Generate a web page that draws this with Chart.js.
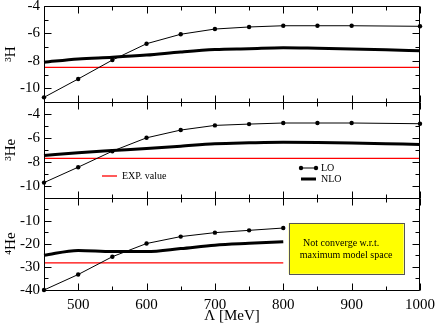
<!DOCTYPE html>
<html>
<head>
<meta charset="utf-8">
<script src="https://cdn.jsdelivr.net/npm/chart.js@4.4.1/dist/chart.umd.min.js"></script>
<style>
html, body { margin: 0; padding: 0; background: #fff; }
canvas { display: block; }
</style>
</head>
<body>
<canvas id="myChart" width="436" height="326"></canvas>
<script>
// Lambda cutoff [MeV]
const lambda = [450, 500, 550, 600, 650, 700, 750, 800, 850, 900, 950, 1000];
const loLambda = [450, 500, 550, 600, 650, 700, 750, 800, 850, 900, 1000];
const lambda4He = [450, 500, 550, 600, 650, 700, 750, 800];

// binding energies [MeV]
const lo3H = [-10.66, -9.32, -7.94, -6.75, -6.06, -5.68, -5.53, -5.44, -5.44, -5.44, -5.48];
const nlo3H = [-8.1, -7.86, -7.74, -7.58, -7.35, -7.17, -7.11, -7.04, -7.08, -7.13, -7.19, -7.26];
const lo3He = [-9.75, -8.46, -7.12, -6.0, -5.35, -4.96, -4.85, -4.76, -4.76, -4.76, -4.82];
const nlo3He = [-7.48, -7.25, -7.07, -6.9, -6.7, -6.5, -6.42, -6.37, -6.39, -6.43, -6.49, -6.55];
const lo4He = [-40.0, -33.3, -25.6, -19.9, -16.9, -15.2, -14.2, -13.2];
const nlo4He = [-25.0, -22.9, -23.4, -23.4, -22.1, -20.6, -19.8, -19.1];

const expValues = [-8.48, -7.72, -28.3];
const expRange = [[450, 1000], [450, 1000], [450, 800]];

// tick labels
const xTicks = [500, 600, 700, 800, 900, 1000];
const ticks3H = [-10, -8, -6, -4];
const ticks3He = [-10, -8, -6, -4];
const ticks4He = [-40, -30, -20, -10];

const panelIds = ['yH', 'yHe3', 'yHe4'];
const panelTitles = ['\u00B3H', '\u00B3He', '\u2074He'];

const serif = '"Liberation Serif", "DejaVu Serif", serif';
Chart.defaults.font.family = serif;
Chart.defaults.color = '#000';

function pts(xs, ys) {
    return xs.map((x, i) => ({ x: x, y: ys[i] }))
}

function loSet(xs, ys, axis) {
    return {
        label: 'LO', data: pts(xs, ys), yAxisID: axis,
        borderColor: '#000', backgroundColor: '#000', borderWidth: 1,
        pointRadius: 2.2, pointBackgroundColor: '#000', pointBorderWidth: 0, clip: false
    }
}
function nloSet(xs, ys, axis) {
    return {
        label: 'NLO', data: pts(xs, ys), yAxisID: axis,
        borderColor: '#000', borderWidth: 3, pointRadius: 0,
        cubicInterpolationMode: 'monotone', clip: false
    }
}
function expSet(i) {
    return {
        label: 'EXP. value', data: pts(expRange[i], [expValues[i], expValues[i]]), yAxisID: panelIds[i],
        borderColor: '#ff0000', borderWidth: 1.3, pointRadius: 0
    }
}

function yAxis(i, min, max, step, weight, tickVals) {
    return {
        type: 'linear', position: 'left', stack: 'panels', stackWeight: weight,
        min: min, max: max,
        grid: { display: false, drawTicks: false },
        border: { display: false },
        ticks: { stepSize: step, padding: 4, autoSkip: false, font: { size: 15 }, callback: v => String(v) },
        title: { display: true, text: panelTitles[i], font: { size: 15 }, padding: { top: 2, bottom: 0 } },
        afterBuildTicks: s => { s.ticks = tickVals.map(v => ({ value: v })) },
        afterFit: s => { s.width = 44; s.paddingTop = 0; s.paddingBottom = 0 }
    }
}

// frame and inward tick marks for every panel
const frame = {
    id: 'frame',
    afterDraw(chart) {
        const ctx = chart.ctx;
        const xs = chart.scales.x;
        const L = Math.round(chart.chartArea.left) + 0.5;
        const R = Math.round(chart.chartArea.right) - 0.5;
        ctx.save();
        ctx.strokeStyle = '#000';
        ctx.lineWidth = 1;
        ctx.beginPath();
        panelIds.forEach((id, i) => {
            const ys = chart.scales[id];
            const T = Math.round(ys.top) + 0.5;
            const B = Math.round(ys.bottom) + 0.5;
            ctx.rect(L, T, R - L, B - T);
            for (let v = 450; v <= 1000; v += 50) {
                const px = Math.round(xs.getPixelForValue(v)) + 0.5;
                const len = v % 100 === 0 ? 7 : 4;
                ctx.moveTo(px, T); ctx.lineTo(px, T + len);
                ctx.moveTo(px, B); ctx.lineTo(px, B - len);
            }
            const step = ys.options.ticks.stepSize / 2;
            for (let v = ys.min; v <= ys.max; v += step) {
                const py = Math.round(ys.getPixelForValue(v)) + 0.5;
                const len = v % (step * 2) === 0 ? 7 : 4;
                ctx.moveTo(L, py); ctx.lineTo(L + len, py);
                ctx.moveTo(R, py); ctx.lineTo(R - len, py);
            }
        });
        ctx.stroke();

        // legend in the 3He panel
        ctx.font = '10px ' + serif;
        ctx.textBaseline = 'middle';
        ctx.textAlign = 'left';
        ctx.strokeStyle = '#ff0000';
        ctx.lineWidth = 1.3;
        ctx.beginPath(); ctx.moveTo(102, 176); ctx.lineTo(117, 176); ctx.stroke();
        ctx.fillStyle = '#000';
        ctx.fillText('EXP. value', 122, 176.5);

        ctx.strokeStyle = '#000';
        ctx.lineWidth = 1;
        ctx.beginPath(); ctx.moveTo(301, 168); ctx.lineTo(316, 168); ctx.stroke();
        [301, 316].forEach(x => { ctx.beginPath(); ctx.arc(x, 168, 2.2, 0, Math.PI * 2); ctx.fill() });
        ctx.fillText('LO', 321, 168.5);
        ctx.lineWidth = 3;
        ctx.beginPath(); ctx.moveTo(301, 179); ctx.lineTo(316, 179); ctx.stroke();
        ctx.fillText('NLO', 321, 179.5);

        // note box in the 4He panel
        const y4 = chart.scales.yHe4;
        const bx = xs.getPixelForValue(808), bx2 = xs.getPixelForValue(976);
        const by = y4.getPixelForValue(-11), by2 = y4.getPixelForValue(-33);
        ctx.fillStyle = '#ffff00';
        ctx.fillRect(bx, by, bx2 - bx, by2 - by);
        ctx.strokeStyle = '#555';
        ctx.lineWidth = 1;
        ctx.strokeRect(Math.round(bx) + 0.5, Math.round(by) + 0.5, Math.round(bx2 - bx), Math.round(by2 - by));
        ctx.fillStyle = '#000';
        ctx.textAlign = 'center';
        ctx.font = '10px ' + serif;
        const mid = (by + by2) / 2;
        ctx.fillText('Not converge w.r.t.', (bx + bx2) / 2 - 5, mid - 5.5);
        ctx.fillText('maximum model space', (bx + bx2) / 2, mid + 6.5);
        ctx.restore();
    }
}

new Chart(document.getElementById('myChart'), {
    type: 'line',
    data: {
        datasets: [
            loSet(loLambda, lo3H, 'yH'), nloSet(lambda, nlo3H, 'yH'), expSet(0),
            loSet(loLambda, lo3He, 'yHe3'), nloSet(lambda, nlo3He, 'yHe3'), expSet(1),
            loSet(lambda4He, lo4He, 'yHe4'), nloSet(lambda4He, nlo4He, 'yHe4'), expSet(2)
        ]
    },
    options: {
        responsive: false,
        animation: false,
        layout: { padding: { top: 6, right: 16, left: 0, bottom: 0 } },
        plugins: { legend: { display: false }, tooltip: { enabled: false } },
        scales: {
            x: {
                type: 'linear', min: 450, max: 1000,
                grid: { display: false, drawTicks: false },
                border: { display: false },
                ticks: { stepSize: 50, padding: 6, maxRotation: 0, autoSkip: false, font: { size: 15 }, callback: v => String(v) },
                title: { display: true, text: '\u039B [MeV]', font: { size: 15 }, padding: { top: 0, bottom: 1 } },
                afterBuildTicks: s => { s.ticks = xTicks.map(v => ({ value: v })) },
                afterFit: s => { s.height = 36; s.paddingLeft = 0; s.paddingRight = 0 }
            },
            // stacked axes are laid out bottom-up, so the lowest panel comes first
            yHe4: yAxis(2, -40, 0, 10, 92.5, ticks4He),
            yHe3: yAxis(1, -11, -3, 2, 95.5, ticks3He),
            yH: yAxis(0, -11, -4, 2, 96, ticks3H)
        }
    },
    plugins: [frame]
});
</script>
</body>
</html>
